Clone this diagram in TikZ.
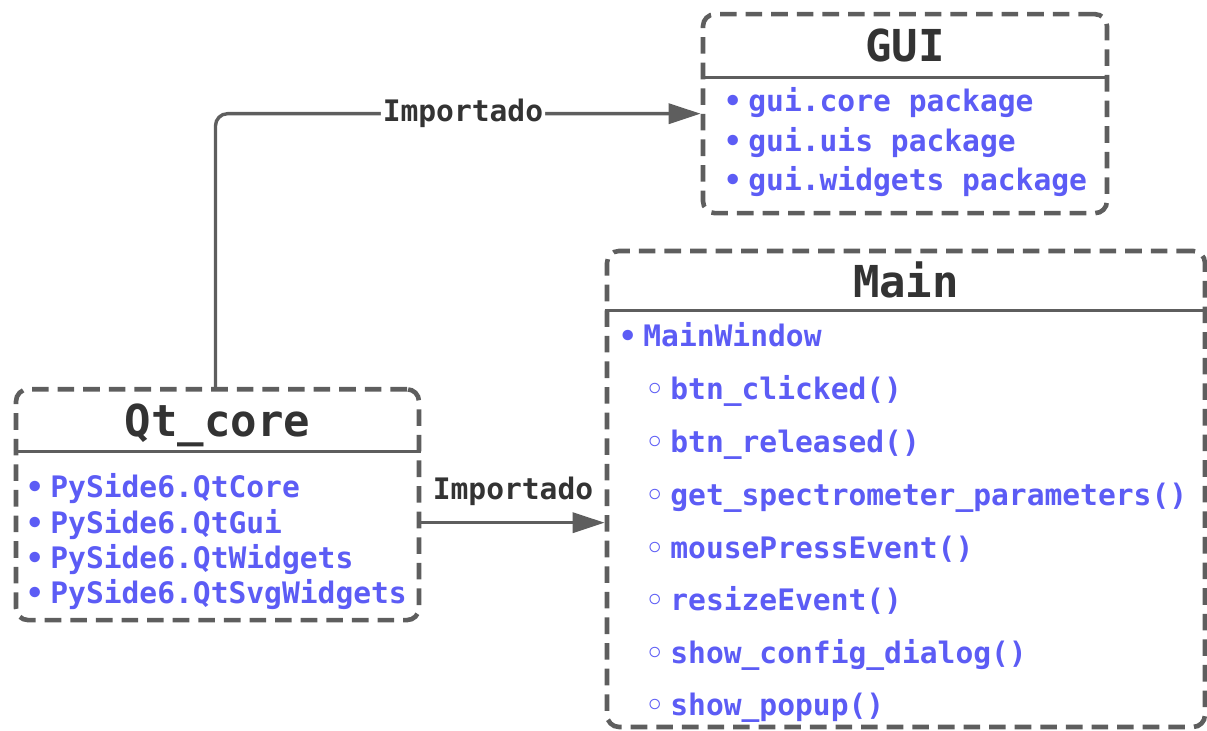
\documentclass[tikz,border=0pt]{standalone}
\usepackage{fontspec}
\setmonofont{DejaVu Sans Mono}
\newfontfamily\symfont{DejaVu Sans}
\usepackage{tikz}
\usetikzlibrary{arrows.meta,positioning}

\definecolor{linegray}{HTML}{5E5E5E}
\definecolor{titlegray}{HTML}{333333}
\definecolor{itemblue}{HTML}{5C5CF5}

\newcommand{\dotitem}{\llap{{\symfont •}\hspace{3pt}}}
\newcommand{\ringitem}{\llap{{\symfont ◦}\hspace{3pt}}}

\tikzset{
  pkgbox/.style={draw=linegray, line width=2.3pt, dash pattern=on 8.3pt off 4.5pt, rounded corners=6pt, inner sep=0pt},
  pkgtitle/.style={text=titlegray, font=\ttfamily\bfseries\fontsize{22}{26}\selectfont, anchor=base, inner sep=0pt},
  pkgitem/.style={text=itemblue, font=\ttfamily\bfseries\fontsize{14.8}{18}\selectfont, anchor=base west, inner sep=0pt},
  pkgsep/.style={draw=linegray, line width=1.5pt},
  conn/.style={draw=linegray, line width=1.7pt, -{Triangle[length=16pt,width=10pt]}},
  connlabel/.style={text=titlegray, font=\ttfamily\bfseries\fontsize{14.8}{18}\selectfont, inner sep=1pt}
}

\begin{document}
\begin{tikzpicture}[x=0.5pt, y=-0.5pt]
  \useasboundingbox (0,0) rectangle (1207,731);

  % boxes
  \node[pkgbox, minimum width=202pt, minimum height=99.5pt] (gui) at (905,113.7) {};
  \node[pkgbox, minimum width=299pt, minimum height=238pt] (main) at (906,489) {};
  \node[pkgbox, minimum width=201.5pt, minimum height=115.4pt] (qt) at (217.5,504.7) {};

  % titles and separators
  \node[pkgtitle] (guititle) at (905,62) {GUI};
  \draw[pkgsep] (gui.west |- 0,78) -- (gui.east |- 0,78);
  \node[pkgtitle] (maintitle) at (906,298) {Main};
  \draw[pkgsep] (main.west |- 0,311) -- (main.east |- 0,311);
  \node[pkgtitle] (qttitle) at (217.5,437) {Qt\_core};
  \draw[pkgsep] (qt.west |- 0,452) -- (qt.east |- 0,452);

  % GUI packages
  \node[pkgitem] (guicore) at (748,112) {\dotitem gui.core package};
  \node[pkgitem] (guiuis) at (748,151.5) {\dotitem gui.uis package};
  \node[pkgitem] (guiwidgets) at (748,191) {\dotitem gui.widgets package};

  % Qt modules
  \node[pkgitem] (qtcore) at (50,498) {\dotitem PySide6.QtCore};
  \node[pkgitem] (qtgui) at (50,533.5) {\dotitem PySide6.QtGui};
  \node[pkgitem] (qtwidgets) at (50,569) {\dotitem PySide6.QtWidgets};
  \node[pkgitem] (qtsvg) at (50,603.5) {\dotitem PySide6.QtSvgWidgets};

  % Main window
  \node[pkgitem] (mainwindow) at (643,347) {\dotitem MainWindow};
  \node[pkgitem] (clicked) at (670,400) {\ringitem btn\_clicked()};
  \node[pkgitem] (released) at (670,453) {\ringitem btn\_released()};
  \node[pkgitem] (spectro) at (670,506) {\ringitem get\_spectrometer\_parameters()};
  \node[pkgitem] (mouse) at (670,558.5) {\ringitem mousePressEvent()};
  \node[pkgitem] (resize) at (670,611) {\ringitem resizeEvent()};
  \node[pkgitem] (config) at (670,664) {\ringitem show\_config\_dialog()};
  \node[pkgitem] (popup) at (670,716) {\ringitem show\_popup()};

  % imports
  \draw[conn, rounded corners=6pt] ([xshift=-1pt]qt.north) |- (gui.west) node[connlabel, fill=white, pos=0.755] {Importado};
  \draw[conn] ([yshift=-9pt]qt.east) -- ([yshift=-9pt]qt.east -| main.west) node[connlabel, midway, above=6.5pt] {Importado};
\end{tikzpicture}
\end{document}
